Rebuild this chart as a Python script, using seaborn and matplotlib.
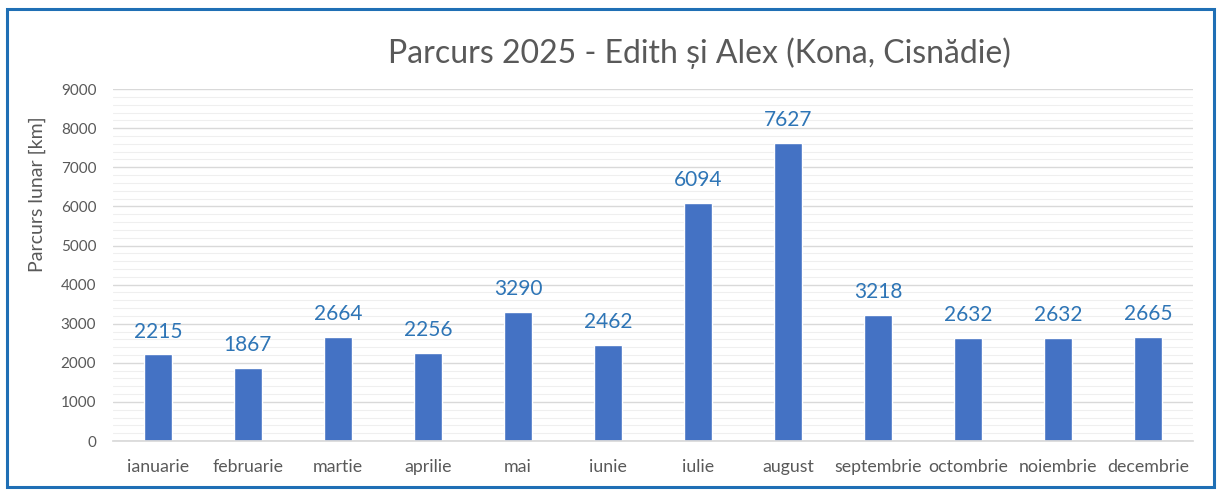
import matplotlib
matplotlib.use("Agg")
import matplotlib.pyplot as plt
import pandas as pd
import seaborn as sns
from matplotlib.patches import Rectangle
from matplotlib.ticker import MultipleLocator

months = ["ianuarie", "februarie", "martie", "aprilie", "mai", "iunie",
          "iulie", "august", "septembrie", "octombrie", "noiembrie", "decembrie"]
km = [2215, 1867, 2664, 2256, 3290, 2462, 6094, 7627, 3218, 2632, 2632, 2665]

df = pd.DataFrame({"luna": months, "km": km})

sns.set_theme(style="white")
plt.rcParams["font.family"] = ["Lato", "DejaVu Sans"]

fig = plt.figure(figsize=(12.21, 4.95), dpi=100)
ax = fig.add_axes([0.0925, 0.109, 0.8845, 0.711])

sns.barplot(data=df, x="luna", y="km", color="#4472C4", saturation=1,
            width=0.31, ax=ax)

# data labels above the bars
for i, v in enumerate(km):
    ax.text(i, v + 330, str(v), ha="center", va="bottom",
            fontsize=15, color="#2E75B6")

ax.set_ylim(0, 9000)
ax.yaxis.set_major_locator(MultipleLocator(1000))
ax.yaxis.set_minor_locator(MultipleLocator(200))
ax.grid(axis="y", which="major", color="#D9D9D9", linewidth=1)
ax.grid(axis="y", which="minor", color="#EFEFEF", linewidth=0.8)
ax.set_axisbelow(True)
for s in ["top", "right", "left"]:
    ax.spines[s].set_visible(False)
ax.spines["bottom"].set_color("#D9D9D9")
ax.tick_params(axis="y", length=0, labelsize=11, colors="#595959", pad=12)
ax.tick_params(axis="x", length=0, labelsize=12.8, colors="#595959", pad=13)
ax.set_xlabel("")
ax.set_ylabel("Parcurs lunar [km]", fontsize=14, color="#595959")
ax.yaxis.set_label_coords(-0.062, 0.70)
ax.set_xlim(-0.5, 11.5)

fig.text(0.5725, 0.893, "Parcurs 2025 - Edith și Alex (Kona, Cisnădie)",
         ha="center", va="center", fontsize=23, color="#595959")

fig.patches.append(Rectangle((7 / 1221, 8 / 495), 1207 / 1221, 478 / 495,
                             transform=fig.transFigure, fill=False,
                             edgecolor="#1F6FB5", linewidth=2.2))

fig.savefig("out.png", dpi=100)
